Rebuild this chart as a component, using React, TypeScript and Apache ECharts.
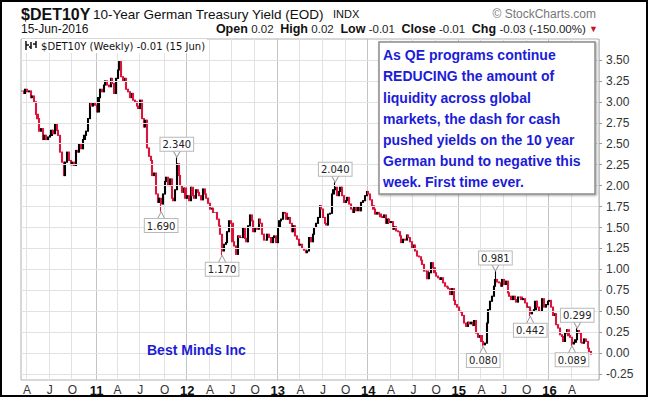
import React, { useEffect, useRef } from 'react';
import * as echarts from 'echarts';

// Weekly closes of the 10-year German yield, week ending Fri 12-Mar-2010 onwards
const closes2010 = [
  3.13, 3.10, 3.15, 3.12, 3.13, 3.05, 3.07, 3.00, 2.85, 2.80, 2.65, 2.68, 2.55, 2.60, 2.55, 2.58,
  2.60, 2.66, 2.62, 2.74, 2.66, 2.60, 2.40, 2.28, 2.12, 2.28, 2.40, 2.30, 2.25, 2.28, 2.24, 2.42,
  2.40, 2.50, 2.44, 2.55, 2.60, 2.65, 2.80, 2.98, 2.95, 2.98, 2.96,
];
const closes2011 = [
  2.88, 3.05, 3.15, 3.12, 3.20, 3.25, 3.20, 3.18, 3.28, 3.22, 3.10, 3.28, 3.38, 3.48, 3.30, 3.25,
  3.28, 3.15, 3.12, 3.05, 3.10, 3.02, 3.00, 2.95, 2.92, 3.02, 2.80, 2.70, 2.78, 2.45, 2.35, 2.30,
  2.12, 2.15, 1.90, 1.80, 1.85, 1.78, 1.90, 2.05, 2.10, 2.00, 2.08, 1.85, 1.82, 1.95, 2.26, 2.12,
  2.00, 1.92, 1.97, 1.85,
];
const closes2012 = [
  1.88, 1.82, 1.98, 1.88, 1.85, 1.95, 1.92, 1.88, 1.83, 1.96, 1.90, 1.85, 1.79, 1.72, 1.73, 1.68,
  1.68, 1.60, 1.52, 1.42, 1.22, 1.30, 1.32, 1.45, 1.58, 1.55, 1.33, 1.28, 1.18, 1.40, 1.38, 1.38,
  1.50, 1.37, 1.33, 1.52, 1.65, 1.58, 1.45, 1.50, 1.48, 1.60, 1.55, 1.42, 1.35, 1.35, 1.42, 1.38,
  1.32, 1.38, 1.40, 1.32,
];
const closes2013 = [
  1.50, 1.58, 1.60, 1.68, 1.67, 1.60, 1.62, 1.55, 1.45, 1.52, 1.40, 1.36, 1.29, 1.30, 1.25, 1.23,
  1.20, 1.22, 1.38, 1.33, 1.42, 1.50, 1.55, 1.62, 1.76, 1.72, 1.62, 1.55, 1.53, 1.66, 1.67, 1.90,
  1.95, 1.98, 1.88, 1.93, 1.98, 1.88, 1.80, 1.82, 1.86, 1.78, 1.72, 1.68, 1.74, 1.70, 1.75, 1.70,
  1.80, 1.82, 1.88, 1.93,
];
const closes2014 = [
  1.90, 1.83, 1.76, 1.72, 1.66, 1.68, 1.66, 1.63, 1.62, 1.65, 1.55, 1.60, 1.56, 1.57, 1.48, 1.51,
  1.46, 1.45, 1.40, 1.32, 1.36, 1.35, 1.41, 1.38, 1.33, 1.25, 1.29, 1.22, 1.16, 1.15, 1.11, 1.06,
  0.98, 0.98, 0.89, 0.96, 1.08, 1.02, 0.96, 0.92, 0.90, 0.88, 0.90, 0.84, 0.80, 0.79, 0.77, 0.70,
  0.77, 0.63, 0.58, 0.55,
];
const closes2015 = [
  0.50, 0.49, 0.45, 0.36, 0.32, 0.37, 0.35, 0.37, 0.33, 0.39, 0.24, 0.19, 0.21, 0.14, 0.10, 0.12,
  0.36, 0.52, 0.62, 0.68, 0.80, 0.88, 0.85, 0.84, 0.80, 0.88, 0.82, 0.86, 0.72, 0.68, 0.64, 0.68,
  0.64, 0.61, 0.67, 0.67, 0.64, 0.65, 0.60, 0.55, 0.55, 0.47, 0.50, 0.52, 0.62, 0.55, 0.50, 0.50,
  0.65, 0.55, 0.58, 0.62,
];
const closes2016 = [
  0.63, 0.55, 0.45, 0.47, 0.34, 0.30, 0.22, 0.20, 0.14, 0.24, 0.28, 0.21, 0.19, 0.11, 0.13, 0.16,
  0.27, 0.24, 0.13, 0.12, 0.17, 0.14, 0.06, 0.02, -0.01,
];

// [week index, value] of the labelled extremes
const highMarks: [number, number][] = [[89, 2.34], [180, 2.04], [272, 0.981], [319, 0.299]];
const lowMarks: [number, number][] = [[80, 1.69], [115, 1.17], [265, 0.08], [292, 0.442], [316, 0.089]];

const yTicks = [-0.25, 0, 0.25, 0.5, 0.75, 1, 1.25, 1.5, 1.75, 2, 2.25, 2.5, 2.75, 3, 3.25, 3.5];
const monthLetters: Record<number, string> = { 3: 'A', 6: 'J', 9: 'O' };

const noteLines = [
  'As QE programs continue',
  'REDUCING the amount of',
  'liquidity across global',
  'markets, the dash for cash',
  'pushed yields on the 10 year',
  'German bund to negative this',
  'week. First time ever.',
];

const START = Date.UTC(2010, 2, 12);
const WEEKS = 332;

export default function App() {
  const ref = useRef<HTMLDivElement>(null);

  useEffect(() => {
    document.body.style.margin = '0';
    const chart = echarts.init(ref.current!, null, { renderer: 'svg' });

    const closes = [...closes2010, ...closes2011, ...closes2012, ...closes2013, ...closes2014, ...closes2015, ...closes2016];
    const lastIdx = closes.length - 1;
    const cats: string[] = [];
    const months: number[] = [];
    for (let i = 0; i < WEEKS; i++) {
      const d = new Date(START + i * 7 * 86400000);
      cats.push(d.toISOString().slice(0, 10));
      months.push(d.getUTCMonth());
    }
    const isQuarter = (i: number) =>
      i > 0 && i <= lastIdx && months[i] !== months[i - 1] && months[i] % 3 === 0;
    const isYear = (i: number) => isQuarter(i) && months[i] === 0;

    const candles = closes.map((c, i) => {
      const o = i === 0 ? c : closes[i - 1];
      let lo = Math.min(o, c);
      let hi = Math.max(o, c);
      const h = highMarks.find((m) => m[0] === i);
      if (h) hi = Math.max(hi, h[1]);
      const l = lowMarks.find((m) => m[0] === i);
      if (l) lo = Math.min(lo, l[1]);
      return [o, c, lo, hi];
    });

    const labelBox = {
      show: true,
      formatter: (p: any) => p.value,
      fontFamily: 'DejaVu Sans',
      fontSize: 10,
      color: '#222',
      backgroundColor: '#fff',
      borderColor: '#b8b8b8',
      borderWidth: 1,
      padding: [2, 2, 1, 2],
    };
    const markData = [
      ...highMarks.map(([i, v]) => ({
        coord: [i, v],
        value: v.toFixed(3),
        symbol: 'path://M0,0L10,0L5,10Z',
        symbolSize: [8, 7],
        symbolOffset: [0, -3.5],
        label: { ...labelBox, position: 'top', distance: -1 },
      })),
      ...lowMarks.map(([i, v]) => ({
        coord: [i, v],
        value: v.toFixed(3),
        symbol: 'path://M5,0L10,10L0,10Z',
        symbolSize: [8, 8],
        symbolOffset: [0, 4],
        label: { ...labelBox, position: 'bottom', distance: -1 },
      })),
    ];

    const blue = '#1c1cd8';
    const font = 'Liberation Sans';

    chart.setOption({
      animation: false,
      backgroundColor: '#fff',
      grid: { left: 21, right: 49, top: 39, bottom: 17, show: true, borderColor: '#b0b0b0', borderWidth: 1 },
      xAxis: [
        {
          type: 'category',
          data: cats,
          boundaryGap: true,
          axisLine: { show: false },
          axisTick: { show: false },
          axisLabel: {
            interval: (i: number) => isQuarter(i),
            formatter: (v: string, i: number) =>
              isYear(i) ? `{y|${v.slice(2, 4)}}` : `{m|${monthLetters[months[i]] || ''}}`,
            margin: 4,
            rich: {
              y: { fontFamily: font, fontWeight: 'bold', fontSize: 13, color: '#111' },
              m: { fontFamily: font, fontSize: 12, color: '#333' },
            },
          },
          splitLine: { show: true, interval: (i: number) => isQuarter(i), lineStyle: { color: '#e2e2e2', width: 1 } },
        },
        {
          type: 'category',
          data: cats,
          boundaryGap: true,
          position: 'top',
          axisLine: { show: false },
          axisTick: { show: false },
          axisLabel: { show: false },
          splitLine: { show: true, interval: (i: number) => isYear(i), lineStyle: { color: '#c4c4c4', width: 1 } },
        },
      ],
      yAxis: {
        type: 'value',
        position: 'right',
        min: -0.32,
        max: 3.75,
        axisLine: { show: false },
        axisTick: { show: true, length: 3, customValues: yTicks, lineStyle: { color: '#999' } },
        axisLabel: {
          customValues: yTicks,
          formatter: (v: number) => v.toFixed(2),
          fontFamily: font,
          fontSize: 12,
          color: '#333',
          margin: 7,
        },
        splitLine: { show: false },
      },
      series: [
        {
          type: 'line',
          data: [],
          silent: true,
          z: 1,
          markLine: {
            silent: true,
            symbol: ['none', 'none'],
            label: { show: false },
            lineStyle: { color: '#e2e2e2', width: 1, type: 'solid' },
            data: yTicks.map((v) => ({ yAxis: v })),
          },
        },
        {
          type: 'candlestick',
          data: candles,
          barWidth: 1.6,
          z: 3,
          itemStyle: {
            color: '#000',
            color0: '#dc143c',
            borderColor: '#000',
            borderColor0: '#dc143c',
            borderWidth: 1.1,
          },
          markPoint: {
            silent: true,
            itemStyle: { color: '#fff', borderColor: '#999', borderWidth: 1 },
            data: markData,
          },
        },
      ],
      graphic: [
        {
          type: 'rect',
          z: 200,
          shape: { x: 1, y: 1, width: 646, height: 395 },
          style: { fill: null, stroke: '#000', lineWidth: 2 },
        },
        {
          type: 'text',
          z: 100,
          x: 21,
          y: 14,
          style: { text: '$DET10Y', font: `bold 16px "${font}"`, fill: '#111', verticalAlign: 'middle' },
        },
        {
          type: 'text',
          z: 100,
          x: 93,
          y: 14,
          style: { text: '10-Year German Treasury Yield (EOD)', font: `13.5px "${font}"`, fill: '#111', verticalAlign: 'middle' },
        },
        {
          type: 'text',
          z: 100,
          x: 333,
          y: 14,
          style: { text: 'INDX', font: `11px "${font}"`, fill: '#111', verticalAlign: 'middle' },
        },
        {
          type: 'text',
          z: 100,
          x: 596,
          y: 14,
          style: { text: '© StockCharts.com', font: `12px "${font}"`, fill: '#777', align: 'right', verticalAlign: 'middle' },
        },
        {
          type: 'text',
          z: 100,
          x: 21,
          y: 29,
          style: { text: '15-Jun-2016', font: `12px "${font}"`, fill: '#111', verticalAlign: 'middle' },
        },
        {
          type: 'text',
          z: 100,
          x: 598,
          y: 29,
          style: {
            text: '{b|Open} {v|0.02}  {b|High} {v|0.02}  {b|Low} {v|-0.01}  {b|Close} {v|-0.01}  {b|Chg} {v|-0.03 (-150.00%)} {r|▼}',
            align: 'right',
            verticalAlign: 'middle',
            rich: {
              b: { font: `bold 12.5px "${font}"`, fill: '#111' },
              v: { font: `11.5px "${font}"`, fill: '#222' },
              r: { font: `9px "${font}"`, fill: '#c8102e' },
            },
          },
        },
        {
          type: 'text',
          z: 100,
          x: 22,
          y: 46,
          style: {
            text: '      $DET10Y (Weekly) -0.01 (15 Jun)',
            font: '10px "DejaVu Sans"',
            fill: '#111',
            verticalAlign: 'middle',
            backgroundColor: '#fff',
            padding: [2, 2, 2, 0],
          },
        },
        { type: 'line', z: 101, shape: { x1: 26, y1: 41, x2: 26, y2: 50 }, style: { stroke: '#111', lineWidth: 1.5 } },
        { type: 'line', z: 101, shape: { x1: 26, y1: 45, x2: 29, y2: 45 }, style: { stroke: '#111', lineWidth: 1.5 } },
        { type: 'line', z: 101, shape: { x1: 31, y1: 42, x2: 31, y2: 49 }, style: { stroke: '#111', lineWidth: 1.5 } },
        { type: 'line', z: 101, shape: { x1: 29, y1: 47, x2: 31, y2: 47 }, style: { stroke: '#111', lineWidth: 1.5 } },
        { type: 'line', z: 101, shape: { x1: 36, y1: 41, x2: 36, y2: 48 }, style: { stroke: '#111', lineWidth: 1.5 } },
        { type: 'line', z: 101, shape: { x1: 33, y1: 44, x2: 36, y2: 44 }, style: { stroke: '#111', lineWidth: 1.5 } },
        {
          type: 'rect',
          z: 100,
          shape: { x: 379, y: 42, width: 216, height: 152 },
          style: { fill: '#fff', stroke: '#8c8c8c', lineWidth: 1.5, shadowBlur: 2, shadowOffsetX: 1, shadowOffsetY: 1, shadowColor: 'rgba(0,0,0,0.35)' },
        },
        {
          type: 'text',
          z: 101,
          x: 383,
          y: 44.5,
          style: {
            text: noteLines.join('\n'),
            font: `bold 14px "${font}"`,
            lineHeight: 21.2,
            fill: blue,
            verticalAlign: 'top',
          },
        },
        {
          type: 'text',
          z: 100,
          x: 147,
          y: 350,
          style: { text: 'Best Minds Inc', font: `bold 14px "${font}"`, fill: blue, verticalAlign: 'middle' },
        },
      ],
    });

    return () => chart.dispose();
  }, []);

  return <div ref={ref} style={{ width: 648, height: 397 }} />;
}
